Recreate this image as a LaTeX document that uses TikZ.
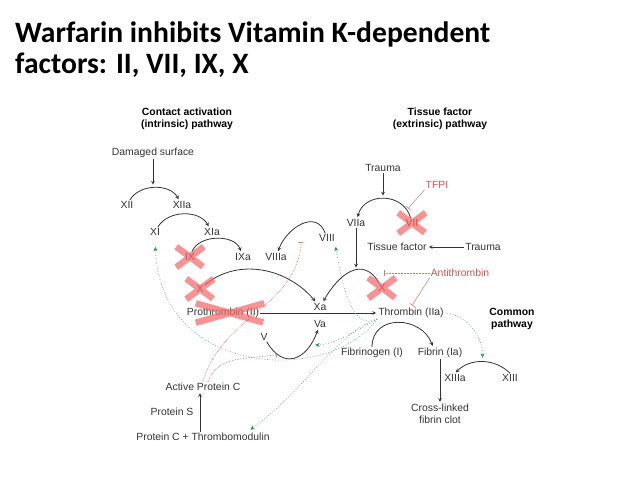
\documentclass[tikz,border=0pt]{standalone}
\usepackage{fontspec}
\setmainfont{Liberation Sans}
\newfontfamily\titlefont{Carlito}
\usetikzlibrary{shapes.misc,arrows.meta}
\definecolor{inhred}{RGB}{205,80,80}
\definecolor{apcred}{RGB}{185,100,90}
\definecolor{xred}{RGB}{245,105,105}
\definecolor{actgreen}{RGB}{40,150,70}
\definecolor{dotgrey}{RGB}{110,150,135}

\begin{document}
\begin{tikzpicture}[x=1pt,y=-1pt,>=stealth,shorten >=1pt,
  fac/.style={font=\fontsize{10.4}{12}\selectfont, text=black!80, inner sep=1pt, align=center},
  head/.style={fac, font=\fontsize{10.4}{12.5}\selectfont\bfseries, text=black},
  inh/.style={fac, text=inhred},
  xmark/.style={cross out, draw=xred, line width=6.5pt, opacity=0.72, inner sep=0pt, minimum width=21pt, minimum height=14pt},
  react/.style={->, line width=0.8pt, draw=black!80},
  push/.style={->, line width=0.7pt, draw=black!80},
  block/.style={-{Bar[width=6pt]}, draw=inhred!80, line width=0.5pt, shorten >=2pt},
  apcblock/.style={-{Bar[width=6pt]}, draw=apcred, densely dotted, line width=0.6pt, shorten >=1pt},
  feed/.style={-{Stealth[length=4.5pt,width=4pt,color=actgreen]}, draw=dotgrey, dotted, line width=0.7pt}]

            \useasboundingbox (0,0) rectangle (638,479);

            % title
            \node[anchor=base west, inner sep=0pt, font=\titlefont\bfseries\fontsize{29.6}{31}\selectfont] (title1) at (15,42) {Warfarin inhibits Vitamin K-dependent};
            \node[anchor=base west, inner sep=0pt, font=\titlefont\bfseries\fontsize{29.6}{31}\selectfont] (title2) at (15,73) {factors: II, VII, IX, X};

            % pathway headings
            \node[head] (intr) at (187,119) {Contact activation\\(intrinsic) pathway};
            \node[head] (extr) at (440,119) {Tissue factor\\(extrinsic) pathway};
            \node[head] (comm) at (512,319) {Common\\pathway};

            % factors
            \node[fac] (dmg) at (153,153) {Damaged surface};
            \node[fac] (xii) at (127,205) {XII};
            \node[fac] (xiia) at (182,205) {XIIa};
            \node[fac] (xi) at (155,232) {XI};
            \node[fac] (xia) at (212,232) {XIa};
            \node[fac] (ix) at (190,257) {IX};
            \node[fac] (ixa) at (243,257) {IXa};
            \node[fac] (viiia) at (276,257) {VIIIa};
            \node[fac] (viii) at (327,238) {VIII};
            \node[fac] (trauma) at (383,168) {Trauma};
            \node[inh] (tfpi) at (437,185) {TFPI};
            \node[fac] (viia) at (356,223) {VIIa};
            \node[fac] (vii) at (412,223) {VII};
            \node[fac] (tf) at (397,247) {Tissue factor};
            \node[fac] (trauma2) at (483,247) {Trauma};
            \node[inh] (anti) at (460,273) {Antithrombin};
            \node[fac] (x) at (200,289) {X};
            \node[fac] (xx) at (382,288) {X};
            \node[fac] (xa) at (320,307) {Xa};
            \node[fac] (va) at (320,324) {Va};
            \node[fac] (proth) at (223,313) {Prothrombin (II)};
            \node[fac] (thr) at (411,313) {Thrombin (IIa)};
            \node[fac] (v) at (264,337) {V};
            \node[fac] (fgen) at (372,353) {Fibrinogen (I)};
            \node[fac] (fib) at (440,353) {Fibrin (Ia)};
            \node[fac] (xiiia) at (455,378) {XIIIa};
            \node[fac] (xiii) at (510,378) {XIII};
            \node[fac] (clot) at (440,414) {Cross-linked\\fibrin clot};
            \node[fac] (apc) at (203,387) {Active Protein C};
            \node[fac] (ps) at (172,412) {Protein S};
            \node[fac] (pct) at (203,437) {Protein C + Thrombomodulin};

            % activations
            \draw[react] (xii) to[bend left=60] node[coordinate,pos=.5] (a12) {} (xiia);
            \draw[react] (xi) to[bend left=60] (xia);
            \draw[react] (ix) to[bend left=70] (ixa);
            \draw[react] (viii) to[out=110,in=70,looseness=1.3] node[coordinate,pos=.5] (a8) {} (viiia);
            \draw[react] (vii) to[bend right=75,looseness=1.3] node[coordinate,pos=.12] (a7b) {} node[coordinate,pos=.5] (a7) {} (viia);
            \draw[react] (x) to[out=40,in=130] (xa);
            \draw[react] (xx) to[out=120,in=60,looseness=1.4] node[coordinate,pos=.5] (a10) {} (xa);
            \draw[react] (v) to[out=-60,in=-110,looseness=1.6] node[coordinate,pos=.2] (a5b) {} node[coordinate,pos=.8] (a5) {} (va);
            \draw[react] (fgen.north) to[out=90,in=110,looseness=1.4] ([xshift=-7pt]fib.north);
            \draw[react] (xiii.north) to[bend right=45] node[coordinate,pos=.5] (a13) {} (xiiia.north);

            \draw[push, shorten >=3pt] (dmg) -- (dmg |- a12);
            \draw[push, shorten >=3pt] (trauma) -- (trauma |- a7);
            \draw[push, shorten >=4pt] (viia) -- (viia |- a10);
            \draw[push] (trauma2) -- (tf);
            \draw[push] (proth) -- (thr);
            \draw[push] (fib) -- (clot);
            \draw[push] ([xshift=-3pt]pct.north) -- ([xshift=-3pt]apc.south);

            % inhibitors
            \draw[block] (tfpi.south west) -- (a7b);
            \draw[block, densely dotted] (anti) -- (xx |- anti);
            \draw[block] (anti.south west) -- (thr.north);
            \draw[apcblock] (apc.north) to[out=75,in=-95] ([yshift=-17pt]a8);
            \draw[apcblock] ([xshift=5pt]apc.north) to[out=70,in=190] (a5b);

            % thrombin feedback
            \draw[feed, shorten >=10pt] (thr.south west) .. controls (330,385) and (160,378) .. (xi.south);
            \draw[feed, shorten >=4pt] (thr.south west) .. controls (352,332) and (342,285) .. ([xshift=8pt]viii.south);
            \draw[feed, shorten >=5pt] (thr.south west) .. controls (350,335) and (330,345) .. (a5);
            \draw[feed, shorten >=4pt] (thr.south west) .. controls (340,330) and (300,395) .. ([xshift=44pt]pct.north);
            \draw[feed, shorten >=4pt] (thr.east) to[out=-5,in=90] (a13);

            % warfarin targets
            \node[xmark] (ixx) at (ix) {};
            \node[xmark] (xcr) at (x) {};
            \node[xmark, minimum width=62pt, minimum height=13pt] (iix) at ([xshift=7pt]proth) {};
            \node[xmark] (viix) at (vii) {};
            \node[xmark] (xxx) at (xx) {};

            ;
        \end{tikzpicture}
\end{document}
